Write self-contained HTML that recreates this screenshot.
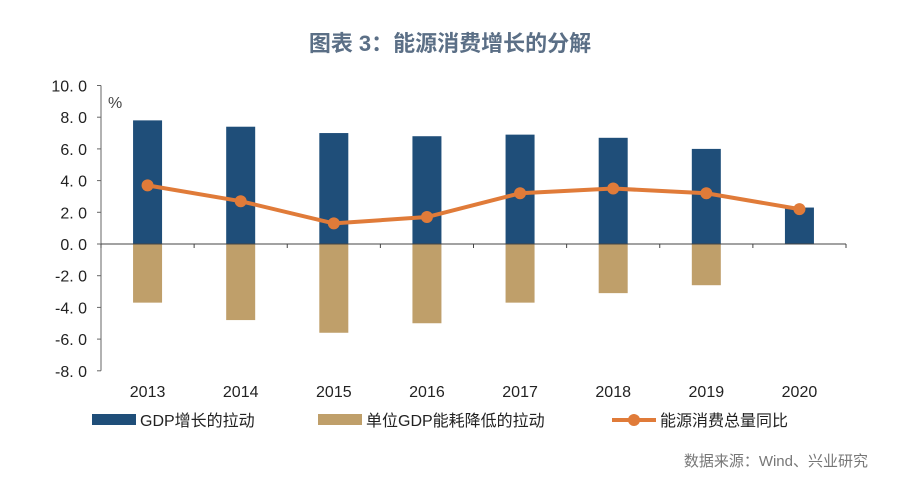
<!DOCTYPE html>
<html><head><meta charset="utf-8"><style>
body{margin:0;background:#fff;width:900px;height:480px;overflow:hidden;font-family:"Liberation Sans","Noto Sans CJK SC",sans-serif}
</style></head><body>
<svg id="c" width="900" height="480" xmlns="http://www.w3.org/2000/svg">
<text x="450" y="51" text-anchor="middle" font-size="22" font-weight="bold" fill="#5b6f86" font-family="Liberation Sans,Noto Sans CJK SC,sans-serif">图表 3：能源消费增长的分解</text>
<text x="108" y="108" font-size="16" fill="#444">%</text>
<text x="868" y="466" text-anchor="end" font-size="15" fill="#777" font-family="Liberation Sans,Noto Sans CJK SC,sans-serif">数据来源：Wind、兴业研究</text>
</svg>
<script>
const categories=["2013","2014","2015","2016","2017","2018","2019","2020"];
const gdpValues=[7.8,7.4,7.0,6.8,6.9,6.7,6.0,2.3];
const intensityValues=[-3.7,-4.8,-5.6,-5.0,-3.7,-3.1,-2.6,0];
const energyValues=[3.7,2.7,1.3,1.7,3.2,3.5,3.2,2.2];
const yTicks=[10,8,6,4,2,0,-2,-4,-6,-8];
const svg=document.getElementById('c');const NS='http://www.w3.org/2000/svg';
const x0=101,x1=846,y0v=244,ppu=15.85;
const bw=(x1-x0)/categories.length;
const y=v=>y0v-v*ppu;const xc=i=>x0+bw*(i+0.5);
function mk(t,a,p){const e=document.createElementNS(NS,t);for(const k in a)e.setAttribute(k,a[k]);(p||svg).appendChild(e);return e;}
let ax=mk('line',{x1:x0,y1:y(10),x2:x0,y2:y(-8),stroke:'#666','stroke-width':1});


yTicks.forEach(v=>{
  let t=mk('line',{x1:x0-4,y1:y(v),x2:x0,y2:y(v),stroke:'#666'});
  
  
  let l=mk('text',{x:87,y:y(v)+6,'text-anchor':'end','font-size':16,fill:'#222'});
  l.textContent=v.toFixed(1).replace('.','. ');
  
  
});
categories.forEach((c,i)=>{
  let g=mk('rect',{x:xc(i)-14.5,y:y(gdpValues[i]),width:29,height:y(0)-y(gdpValues[i]),fill:'#1f4e79'});
  
  
  let n=mk('rect',{x:xc(i)-14.5,y:y(0),width:29,height:y(intensityValues[i])-y(0),fill:'#bf9f6a'});
  
  
  let l=mk('text',{x:xc(i),y:397,'text-anchor':'middle','font-size':16,fill:'#222'});
  l.textContent=c;
  
  
});
let xa=mk('line',{x1:x0,y1:y(0),x2:x1,y2:y(0),stroke:'#444','stroke-width':1});


for(let i=0;i<=categories.length;i++){let t=mk('line',{x1:x0+bw*i,y1:y(0),x2:x0+bw*i,y2:y(0)+4,stroke:'#444'});
  
  }
let pl=mk('polyline',{points:energyValues.map((v,i)=>xc(i)+','+y(v)).join(' '),fill:'none',stroke:'#e07b39','stroke-width':4,'stroke-linejoin':'round'});


energyValues.forEach((v,i)=>{let c=mk('circle',{cx:xc(i),cy:y(v),r:6,fill:'#e07b39'});
  
  });
const lg=[['GDP增长的拉动','#1f4e79',92,'rect'],['单位GDP能耗降低的拉动','#bf9f6a',318,'rect'],['能源消费总量同比','#e07b39',612,'line']];
lg.forEach(([t,c,lx,k])=>{
  let m;
  if(k==='rect'){m=mk('rect',{x:lx,y:414,width:44,height:11,fill:c});}
  else{m=mk('g',{});mk('line',{x1:lx,y1:420,x2:lx+44,y2:420,stroke:c,'stroke-width':4},m);mk('circle',{cx:lx+22,cy:420,r:6,fill:c},m);}
  
  
  let tx=mk('text',{x:lx+48,y:426,'font-size':16,fill:'#222','font-family':'Liberation Sans,Noto Sans CJK SC,sans-serif'});
  tx.textContent=t;
  
  
});
</script>
</body></html>
